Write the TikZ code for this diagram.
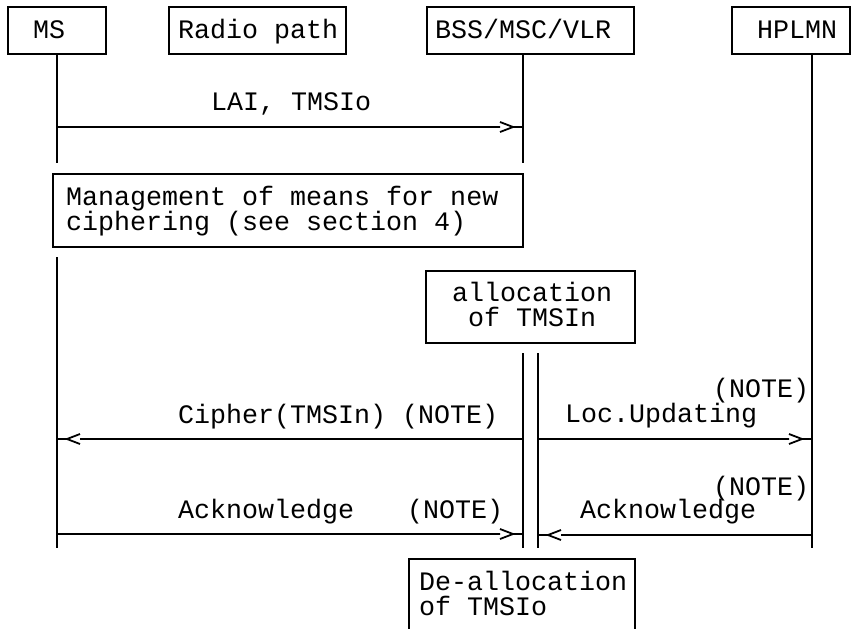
\documentclass[tikz,border=0pt]{standalone}
\usepackage{fontspec}
\newfontfamily\diagmono{Liberation Mono}
\begin{document}
\begin{tikzpicture}[x=1pt,y=-1pt,
  ln/.style={line width=1.8pt},
  box/.style={draw, line width=1.8pt, rectangle, inner sep=0pt},
  lbl/.style={anchor=base west, inner sep=0pt, font=\diagmono\fontsize{26.67pt}{25pt}\selectfont},
  msgR/.style={to path={ -- ([xshift=-23pt]\tikztotarget)
      ([xshift=-23pt,yshift=5pt]\tikztotarget) -- ([xshift=-10pt]\tikztotarget) -- ([xshift=-23pt,yshift=-5pt]\tikztotarget)
      ([xshift=-10pt]\tikztotarget) -- (\tikztotarget)}},
  msgL/.style={to path={ -- ([xshift=23pt]\tikztotarget)
      ([xshift=23pt,yshift=5pt]\tikztotarget) -- ([xshift=10pt]\tikztotarget) -- ([xshift=23pt,yshift=-5pt]\tikztotarget)
      ([xshift=10pt]\tikztotarget) -- (\tikztotarget)}}]
\useasboundingbox (0,0) rectangle (852,629);
\clip (0,0) rectangle (852,629);

% header boxes
\node[box, minimum width=98pt, minimum height=47pt] (msbox) at (57,30.5) {};
\node[box, minimum width=177pt, minimum height=47pt] (radiobox) at (257.5,30.5) {};
\node[box, minimum width=207pt, minimum height=47pt] (bssbox) at (530.5,30.5) {};
\node[box, minimum width=118pt, minimum height=47pt] (hplmnbox) at (791,30.5) {};
\node[lbl] (mstxt) at (33,38) {MS};
\node[lbl] (radiotxt) at (178,38) {Radio path};
\node[lbl] (bsstxt) at (435,38) {BSS/MSC/VLR};
\node[lbl] (hplmntxt) at (757,38) {HPLMN};

% lifeline points
\coordinate (ms0) at (57,54);   \coordinate (ms1) at (57,163);
\coordinate (ms2) at (57,257);  \coordinate (ms3) at (57,548);
\coordinate (bs0) at (523,54);  \coordinate (bs1) at (523,163);
\coordinate (bs2) at (523,353); \coordinate (bs3) at (523,548);
\coordinate (bt2) at (538,353); \coordinate (bt3) at (538,548);
\coordinate (hp0) at (812,54);  \coordinate (hp1) at (812,548);
\draw[ln] (ms0) -- (ms1) (ms2) -- (ms3);
\draw[ln] (bs0) -- (bs1) (bs2) -- (bs3);
\draw[ln] (bt2) -- (bt3);
\draw[ln] (hp0) -- (hp1);

% LAI, TMSIo
\coordinate (m1s) at (57,127); \coordinate (m1e) at (523,127);
\draw[ln] (m1s) to[msgR] (m1e);
\node[lbl] (m1txt) at (211,110) {LAI, TMSIo};

% management box
\node[box, minimum width=470pt, minimum height=73pt] (mgmtbox) at (288,210.5) {};
\node[lbl, align=left] (mgmt) at (66,230) {Management of means for new\\ciphering (see section 4)};

% allocation box
\node[box, minimum width=209pt, minimum height=72pt] (allocbox) at (530.5,307) {};
\node[lbl, align=center] (alloc) at (452,326) {allocation\\of TMSIn};

% Cipher
\coordinate (m2s) at (523,439); \coordinate (m2e) at (57,439);
\draw[ln] (m2s) to[msgL] (m2e);
\node[lbl] (m2txt) at (178,423) {Cipher(TMSIn) (NOTE)};

% Loc.Updating
\coordinate (m3s) at (538,439); \coordinate (m3e) at (812,439);
\draw[ln] (m3s) to[msgR] (m3e);
\node[lbl] (m3note) at (713,397) {(NOTE)};
\node[lbl] (m3txt) at (565,422) {Loc.Updating};

% Acknowledge left
\coordinate (m4s) at (57,534); \coordinate (m4e) at (523,534);
\draw[ln] (m4s) to[msgR] (m4e);
\node[lbl] (m4txt) at (178,518) {Acknowledge};
\node[lbl] (m4note) at (407,518) {(NOTE)};

% Acknowledge right
\coordinate (m5s) at (812,535); \coordinate (m5e) at (538,535);
\draw[ln] (m5s) to[msgL] (m5e);
\node[lbl] (m5note) at (713,495) {(NOTE)};
\node[lbl] (m5txt) at (580,518) {Acknowledge};

% de-allocation box (runs off the bottom)
\node[box, minimum width=226pt, minimum height=100pt] (deallocbox) at (522,609) {};
\node[lbl, align=left] (dealloc) at (419,615) {De-allocation\\of TMSIo};
\end{tikzpicture}
\end{document}
